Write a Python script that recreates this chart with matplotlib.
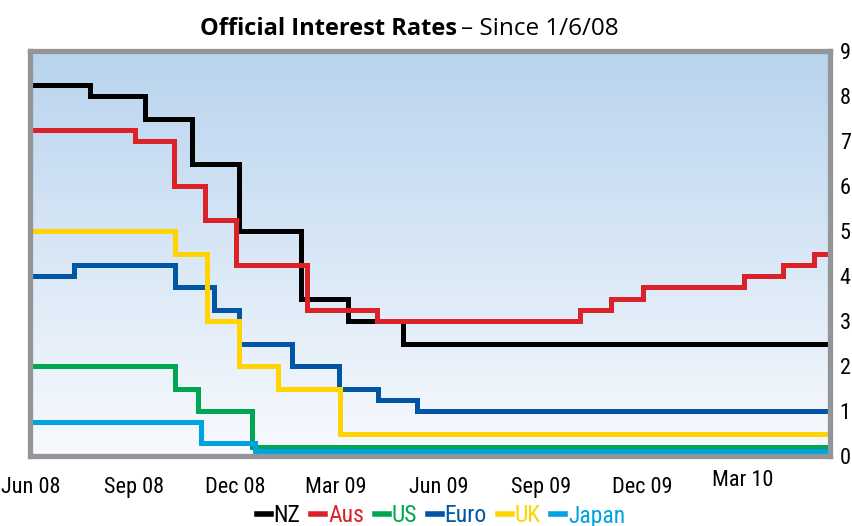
import numpy as np
import pandas as pd
import matplotlib
matplotlib.use("Agg")
import matplotlib.pyplot as plt
import matplotlib.dates as mdates
from matplotlib.transforms import ScaledTranslation

# rate changes (date the new rate starts, rate in %)
nz_dates = ["2008-06-01", "2008-07-24", "2008-09-11", "2008-10-23", "2008-12-04",
            "2009-01-29", "2009-03-12", "2009-04-30"]
nz_rates = [8.25, 8.0, 7.5, 6.5, 5.0, 3.5, 3.0, 2.5]

aus_dates = ["2008-06-01", "2008-09-02", "2008-10-07", "2008-11-04", "2008-12-02",
             "2009-02-03", "2009-04-07", "2009-10-06", "2009-11-03", "2009-12-01",
             "2010-03-02", "2010-04-06", "2010-05-04"]
aus_rates = [7.25, 7.0, 6.0, 5.25, 4.25, 3.25, 3.0, 3.25, 3.5, 3.75, 4.0, 4.25, 4.5]

us_dates = ["2008-06-01", "2008-10-08", "2008-10-29", "2008-12-16"]
us_rates = [2.0, 1.5, 1.0, 0.2]

euro_dates = ["2008-06-01", "2008-07-09", "2008-10-08", "2008-11-12", "2008-12-04",
              "2009-01-21", "2009-03-04", "2009-04-08", "2009-05-13"]
euro_rates = [4.0, 4.25, 3.75, 3.25, 2.5, 2.0, 1.5, 1.25, 1.0]

uk_dates = ["2008-06-01", "2008-10-08", "2008-11-06", "2008-12-04", "2009-01-08",
            "2009-03-05"]
uk_rates = [5.0, 4.5, 3.0, 2.0, 1.5, 0.5]

japan_dates = ["2008-06-01", "2008-10-31", "2008-12-19"]
japan_rates = [0.75, 0.3, 0.12]

end_date = "2010-05-18"

series_names = ["NZ", "Aus", "US", "Euro", "UK", "Japan"]
series_dates = [nz_dates, aus_dates, us_dates, euro_dates, uk_dates, japan_dates]
series_rates = [nz_rates, aus_rates, us_rates, euro_rates, uk_rates, japan_rates]
series_colors = ["#000000", "#dc2229", "#00a651", "#0055a5", "#ffd400", "#00a3e1"]

tick_dates = ["2008-06-01", "2008-09-01", "2008-12-01", "2009-03-01",
              "2009-06-01", "2009-09-01", "2009-12-01", "2010-03-01"]

cond = ["Roboto Condensed", "Archivo Narrow", "Liberation Sans"]

fig = plt.figure(figsize=(8.53, 5.26), dpi=100)
ax = fig.add_axes([30 / 853, 70 / 526, 800 / 853, 405 / 526])

# background gradient
top = np.array([185, 212, 238]) / 255
bot = np.array([248, 250, 254]) / 255
t = np.linspace(0, 1, 256)[:, None]
grad = (top * (1 - t) + bot * t)[:, None, :]
ax.imshow(grad, extent=[0, 1, 0, 1], transform=ax.transAxes, aspect="auto",
          zorder=0, interpolation="bilinear")

for name, d, r, c in zip(series_names, series_dates, series_rates, series_colors):
    x = pd.to_datetime(d + [end_date])
    y = r + [r[-1]]
    ax.step(x, y, where="post", color=c, lw=3.6, label=name, zorder=2,
            solid_joinstyle="miter")

ax.set_xlim(pd.Timestamp("2008-05-31"), pd.Timestamp(end_date))
ax.set_ylim(0, 9)

ax.set_xticks(pd.to_datetime(tick_dates))
ax.xaxis.set_major_formatter(mdates.DateFormatter("%b %y"))
ax.set_yticks(range(10))
ax.yaxis.tick_right()
ax.tick_params(axis="x", length=0, pad=15, labelsize=16)
ax.tick_params(axis="y", length=0, pad=7, labelsize=16)
for lbl in ax.get_xticklabels() + ax.get_yticklabels():
    lbl.set_family(cond)
ax.get_xticklabels()[-1].set_transform(
    ax.get_xticklabels()[-1].get_transform() + ScaledTranslation(0, 5 / 72, fig.dpi_scale_trans))

for sp in ax.spines.values():
    sp.set_color("#939598")
    sp.set_linewidth(3.8)
    sp.set_zorder(3)

# title: bold part + regular part
fig.text(457 / 853, 1 - 35 / 526, "Official Interest Rates", ha="right", va="baseline",
         fontsize=17, fontweight="bold", family="Open Sans")
fig.text(461 / 853, 1 - 35 / 526, "\u2013 Since 1/6/08", ha="left", va="baseline",
         fontsize=17.5, family="Open Sans")

leg = fig.legend(loc="center", bbox_to_anchor=(441 / 853, 1 - 516 / 526), ncol=6,
                 frameon=False, handlelength=0.6, handletextpad=0.12,
                 columnspacing=0.45, labelcolor="linecolor",
                 prop={"family": cond, "size": 17})
for h in leg.legend_handles:
    h.set_linewidth(4)

fig.savefig("out.png", dpi=100)
